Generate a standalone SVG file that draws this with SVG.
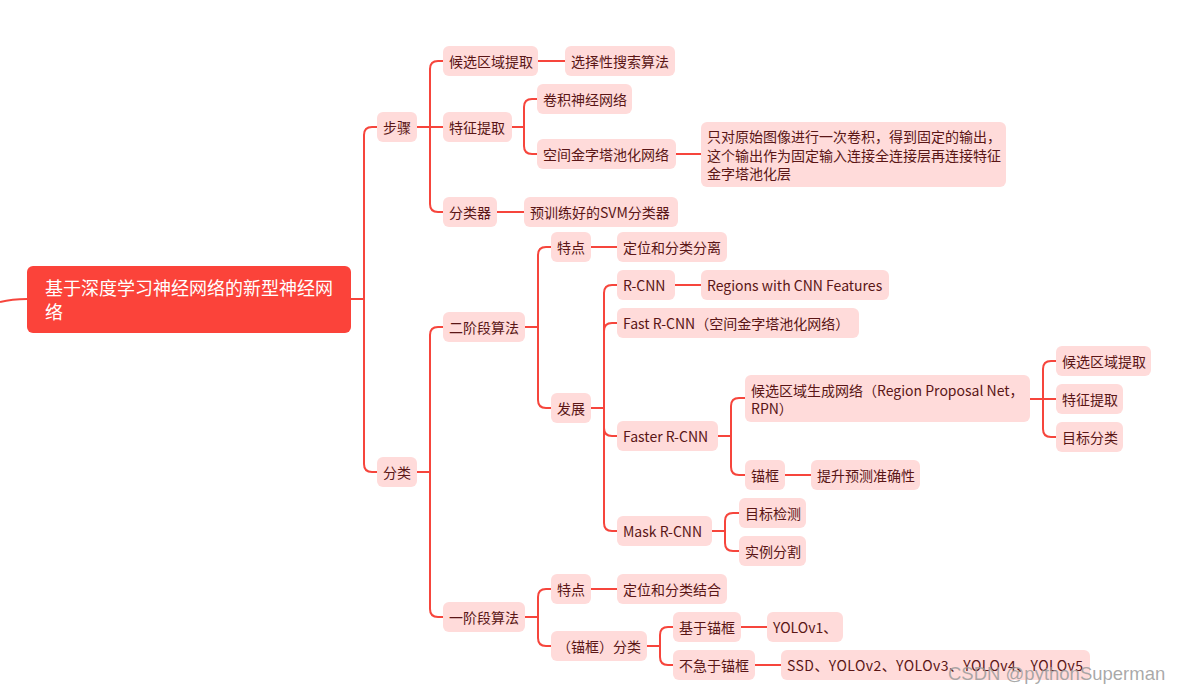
<svg xmlns="http://www.w3.org/2000/svg" width="1182" height="692" viewBox="0 0 1182 692">
<style>
.b{fill:#ffdbda}
.t{font-family:"Noto Sans CJK SC","Noto Sans",sans-serif;font-size:14px;fill:#5a1616;dominant-baseline:central}
.r{fill:#fb433a}
.rt{font-family:"Noto Sans CJK SC","Noto Sans",sans-serif;font-size:18px;fill:#ffffff;dominant-baseline:central}
.c path{fill:none;stroke:#f6453c;stroke-width:2}
</style>
<rect width="1182" height="692" fill="#ffffff"/>
<g class="c" id="connectors">
<path d="M0,302 Q12,299 27,299"/>
<path d="M351,299 H364"/>
<path d="M364,299 V135 Q364,127 372,127 H377"/>
<path d="M364,299 V464 Q364,472 372,472 H377"/>
<path d="M417,127 H443"/>
<path d="M430,127 V69 Q430,61 438,61 H443"/>
<path d="M430,127 V204 Q430,212 438,212 H443"/>
<path d="M512,127 H524"/>
<path d="M524,127 V107 Q524,99 532,99 H537"/>
<path d="M524,127 V146 Q524,154 532,154 H537"/>
<path d="M538,61 H565"/>
<path d="M676,154 H701"/>
<path d="M497,212 H524"/>
<path d="M417,472 H430"/>
<path d="M430,472 V335 Q430,327 438,327 H443"/>
<path d="M430,472 V609 Q430,617 438,617 H443"/>
<path d="M525,327 H538"/>
<path d="M538,327 V255 Q538,247 546,247 H551"/>
<path d="M538,327 V400 Q538,408 546,408 H551"/>
<path d="M591,247 H617"/>
<path d="M591,408 H604"/>
<path d="M604,408 V293 Q604,285 612,285 H617"/>
<path d="M604,408 V331 Q604,323 612,323 H617"/>
<path d="M604,408 V428 Q604,436 612,436 H617"/>
<path d="M604,408 V523 Q604,531 612,531 H617"/>
<path d="M675,285 H701"/>
<path d="M718,436 H731"/>
<path d="M731,436 V406 Q731,398 739,398 H745"/>
<path d="M731,436 V467 Q731,475 739,475 H745"/>
<path d="M785,475 H811"/>
<path d="M1030,399 H1056"/>
<path d="M1043,399 V369 Q1043,361 1051,361 H1056"/>
<path d="M1043,399 V429 Q1043,437 1051,437 H1056"/>
<path d="M712,531 H725"/>
<path d="M725,531 V521 Q725,513 733,513 H739"/>
<path d="M725,531 V543 Q725,551 733,551 H739"/>
<path d="M525,617 H538"/>
<path d="M538,617 V597 Q538,589 546,589 H551"/>
<path d="M538,617 V638 Q538,646 546,646 H551"/>
<path d="M591,589 H617"/>
<path d="M647,646 H660"/>
<path d="M660,646 V635 Q660,627 668,627 H673"/>
<path d="M660,646 V657 Q660,665 668,665 H673"/>
<path d="M741,627 H767"/>
<path d="M755,665 H781"/>
</g>
<g id="root"><rect class="r" x="27" y="266" width="324" height="67" rx="6"/><text class="rt" x="45" y="287">基于深度学习神经网络的新型神经网</text><text class="rt" x="45" y="311">络</text></g>
<g id="n-buzhou"><rect class="b" x="377" y="112" width="40" height="30" rx="6"/><text class="t" x="383" y="127">步骤</text></g>
<g id="n-fenlei"><rect class="b" x="377" y="457" width="40" height="30" rx="6"/><text class="t" x="383" y="472">分类</text></g>
<g id="n-hxqy"><rect class="b" x="443" y="46" width="95" height="30" rx="6"/><text class="t" x="449" y="61">候选区域提取</text></g>
<g id="n-xzx"><rect class="b" x="565" y="46" width="110" height="30" rx="6"/><text class="t" x="571" y="61">选择性搜索算法</text></g>
<g id="n-tztq"><rect class="b" x="443" y="112" width="69" height="30" rx="6"/><text class="t" x="449" y="127">特征提取</text></g>
<g id="n-jj"><rect class="b" x="537" y="84" width="95" height="30" rx="6"/><text class="t" x="543" y="99">卷积神经网络</text></g>
<g id="n-kj"><rect class="b" x="537" y="139" width="139" height="30" rx="6"/><text class="t" x="543" y="154">空间金字塔池化网络</text></g>
<g id="n-zd"><rect class="b" x="701" y="122" width="305" height="65" rx="6"/><text class="t" x="707" y="136">只对原始图像进行一次卷积，得到固定的输出，</text><text class="t" x="707" y="155">这个输出作为固定输入连接全连接层再连接特征</text><text class="t" x="707" y="173">金字塔池化层</text></g>
<g id="n-flq"><rect class="b" x="443" y="197" width="54" height="30" rx="6"/><text class="t" x="449" y="212">分类器</text></g>
<g id="n-svm"><rect class="b" x="524" y="197" width="154" height="30" rx="6"/><text class="t" x="530" y="212">预训练好的SVM分类器</text></g>
<g id="n-ejd"><rect class="b" x="443" y="312" width="82" height="30" rx="6"/><text class="t" x="449" y="327">二阶段算法</text></g>
<g id="n-td1"><rect class="b" x="551" y="232" width="40" height="30" rx="6"/><text class="t" x="557" y="247">特点</text></g>
<g id="n-fl1"><rect class="b" x="617" y="232" width="110" height="30" rx="6"/><text class="t" x="623" y="247">定位和分类分离</text></g>
<g id="n-fz"><rect class="b" x="551" y="393" width="40" height="30" rx="6"/><text class="t" x="557" y="408">发展</text></g>
<g id="n-rcnn"><rect class="b" x="617" y="270" width="58" height="30" rx="6"/><text class="t" x="623" y="285">R-CNN</text></g>
<g id="n-rwc"><rect class="b" x="701" y="270" width="188" height="30" rx="6"/><text class="t" x="707" y="285">Regions with CNN Features</text></g>
<g id="n-fast"><rect class="b" x="617" y="308" width="242" height="30" rx="6"/><text class="t" x="623" y="323">Fast R-CNN（空间金字塔池化网络）</text></g>
<g id="n-faster"><rect class="b" x="617" y="421" width="101" height="30" rx="6"/><text class="t" x="623" y="436">Faster R-CNN</text></g>
<g id="n-rpn"><rect class="b" x="745" y="375" width="285" height="47" rx="6"/><text class="t" x="751" y="390">候选区域生成网络（Region Proposal Net，</text><text class="t" x="751" y="408">RPN）</text></g>
<g id="n-hxqy2"><rect class="b" x="1056" y="346" width="95" height="30" rx="6"/><text class="t" x="1062" y="361">候选区域提取</text></g>
<g id="n-tztq2"><rect class="b" x="1056" y="384" width="67" height="30" rx="6"/><text class="t" x="1062" y="399">特征提取</text></g>
<g id="n-mbfl"><rect class="b" x="1056" y="422" width="67" height="30" rx="6"/><text class="t" x="1062" y="437">目标分类</text></g>
<g id="n-mk"><rect class="b" x="745" y="460" width="40" height="30" rx="6"/><text class="t" x="751" y="475">锚框</text></g>
<g id="n-ts"><rect class="b" x="811" y="460" width="109" height="30" rx="6"/><text class="t" x="817" y="475">提升预测准确性</text></g>
<g id="n-mask"><rect class="b" x="617" y="516" width="95" height="30" rx="6"/><text class="t" x="623" y="531">Mask R-CNN</text></g>
<g id="n-mbjc"><rect class="b" x="739" y="498" width="67" height="30" rx="6"/><text class="t" x="745" y="513">目标检测</text></g>
<g id="n-slfg"><rect class="b" x="739" y="536" width="67" height="30" rx="6"/><text class="t" x="745" y="551">实例分割</text></g>
<g id="n-yjd"><rect class="b" x="443" y="602" width="82" height="30" rx="6"/><text class="t" x="449" y="617">一阶段算法</text></g>
<g id="n-td2"><rect class="b" x="551" y="574" width="40" height="30" rx="6"/><text class="t" x="557" y="589">特点</text></g>
<g id="n-jh"><rect class="b" x="617" y="574" width="110" height="30" rx="6"/><text class="t" x="623" y="589">定位和分类结合</text></g>
<g id="n-mkfl"><rect class="b" x="551" y="631" width="96" height="30" rx="6"/><text class="t" x="557" y="646">（锚框）分类</text></g>
<g id="n-jy"><rect class="b" x="673" y="612" width="68" height="30" rx="6"/><text class="t" x="679" y="627">基于锚框</text></g>
<g id="n-yolo1"><rect class="b" x="767" y="612" width="76" height="30" rx="6"/><text class="t" x="773" y="627">YOLOv1、</text></g>
<g id="n-bj"><rect class="b" x="673" y="650" width="82" height="30" rx="6"/><text class="t" x="679" y="665">不急于锚框</text></g>
<g id="n-ssd"><rect class="b" x="781" y="650" width="309" height="30" rx="6"/><text class="t" x="787" y="665" textLength="296" lengthAdjust="spacing">SSD、YOLOv2、YOLOv3、YOLOv4、YOLOv5</text></g>
<text x="948" y="680" font-family="Liberation Sans, Arial, sans-serif" font-size="18.5" fill="#9a9a9a" fill-opacity="0.85">CSDN @pythonSuperman</text>
</svg>
